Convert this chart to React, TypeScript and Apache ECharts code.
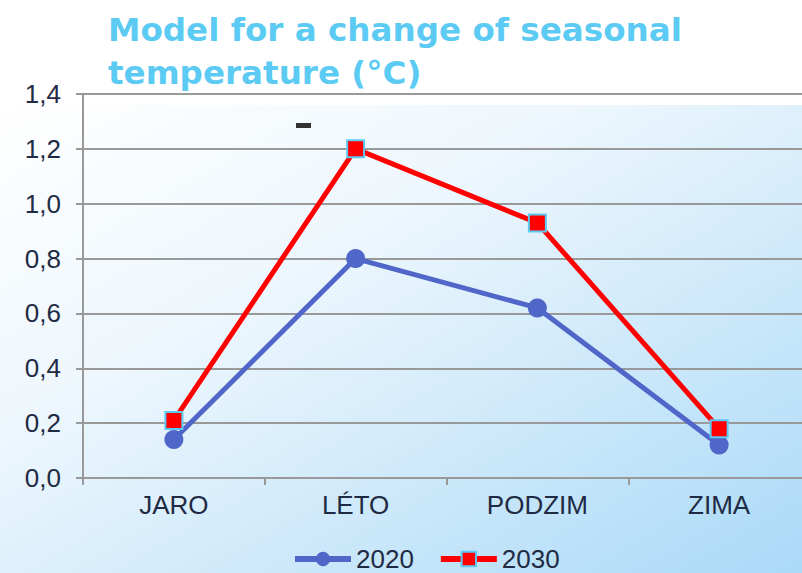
import React, { useEffect, useRef } from "react";
import * as echarts from "echarts";

const categories = ["JARO", "LÉTO", "PODZIM", "ZIMA"];
const series2020 = [0.14, 0.8, 0.62, 0.12];
const series2030 = [0.21, 1.2, 0.93, 0.18];
const titleLines = ["Model for a change of seasonal", "temperature (°C)"];

export default function App() {
  const ref = useRef<HTMLDivElement>(null);
  useEffect(() => {
    document.body.style.margin = "0";
    const chart = echarts.init(ref.current!, null, { renderer: "svg" });
    const fmt = (v: number) => v.toFixed(1).replace(".", ",");
    const font = "'Liberation Sans', Arial, sans-serif";
    chart.setOption({
      animation: false,
      graphic: [
        {
          type: "rect",
          z: -10,
          silent: true,
          shape: { x: 0, y: 105, width: 812, height: 468 },
          style: {
            fill: new echarts.graphic.LinearGradient(0, 0, 1, 1, [
              { offset: 0, color: "#ffffff" },
              { offset: 0.35, color: "#eef7fd" },
              { offset: 1, color: "#a9d9f7" },
            ]),
          },
        },
        {
          type: "text",
          left: 108,
          top: 8,
          style: {
            text: titleLines.join("\n"),
            fill: "#5ccbf3",
            font: "bold 32.6px 'DejaVu Sans', sans-serif",
            lineHeight: 43,
          },
        },
        {
          type: "rect",
          shape: { x: 296, y: 123, width: 15, height: 5 },
          style: { fill: "#333333" },
        },
      ],
      grid: { left: 83, top: 94, width: 727, bottom: 95 },
      legend: {
        top: 541,
        left: 287,
        itemWidth: 56,
        itemHeight: 18,
        itemGap: 24,
        lineStyle: { width: 6 },
        textStyle: { fontSize: 26, color: "#1f2a44", fontFamily: font },
        data: ["2020", "2030"],
      },
      xAxis: {
        type: "category",
        data: categories,
        axisLine: { lineStyle: { color: "#999999", width: 2 } },
        axisTick: { show: true, length: 7, lineStyle: { color: "#999999", width: 2 } },
        axisLabel: { fontSize: 26, color: "#1f2a44", margin: 14, fontFamily: font },
      },
      yAxis: {
        type: "value",
        min: 0,
        max: 1.4,
        interval: 0.2,
        axisLine: { show: true, lineStyle: { color: "#999999", width: 2 } },
        axisTick: { show: true, length: 7, lineStyle: { color: "#999999", width: 2 } },
        splitLine: { lineStyle: { color: "#999999", width: 2 } },
        axisLabel: {
          fontSize: 26,
          color: "#1f2a44",
          margin: 22,
          formatter: fmt,
          fontFamily: font,
        },
      },
      series: [
        {
          name: "2020",
          type: "line",
          data: series2020,
          symbol: "circle",
          symbolSize: 19,
          lineStyle: { color: "#5066c8", width: 5 },
          itemStyle: { color: "#5066c8" },
        },
        {
          name: "2030",
          type: "line",
          data: series2030,
          symbol: "rect",
          symbolSize: 17,
          lineStyle: { color: "#ff0000", width: 5 },
          itemStyle: { color: "#ff0000", borderColor: "#5ccbf3", borderWidth: 2 },
        },
      ],
    });
    return () => chart.dispose();
  }, []);
  return (
    <div style={{ width: 802, height: 573, overflow: "hidden" }}>
      <div ref={ref} style={{ width: 812, height: 573 }} />
    </div>
  );
}
